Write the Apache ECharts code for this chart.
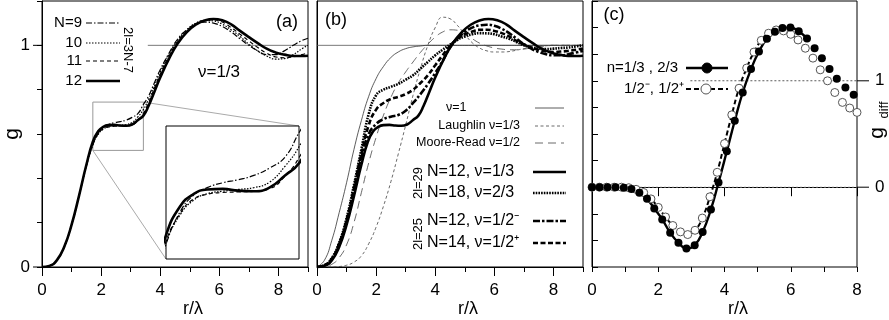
<!DOCTYPE html>
<html>
<head>
<meta charset="utf-8">
<script src="https://cdn.jsdelivr.net/npm/echarts@6/dist/echarts.min.js"></script>
<style>
  html, body { margin: 0; padding: 0; background: #fff; }
  #chart { width: 889px; height: 320px; }
</style>
</head>
<body>
<div id="chart"></div>
<script>
// ---- panel (a): g(r) for nu=1/3, 2l=3N-7 ----
const rA = [0, 0.25, 0.5, 0.75, 1.0, 1.25, 1.5, 1.72, 1.9, 2.07, 2.25, 2.45, 2.65, 2.85, 3.05, 3.25, 3.43,
  3.6, 3.8, 4.0, 4.3, 4.6, 4.9, 5.2, 5.5, 5.8, 6.1, 6.4, 6.7, 7.0, 7.3, 7.6, 7.9, 8.2, 8.5, 8.8, 9.0];
const gN9 = [0, 0.005, 0.03, 0.09, 0.19, 0.32, 0.455, 0.55, 0.603, 0.630, 0.643, 0.651, 0.656, 0.663, 0.675, 0.693, 0.733,
  0.77, 0.83, 0.89, 0.965, 1.03, 1.07, 1.095, 1.105, 1.10, 1.085, 1.06, 1.03, 1.0, 0.975, 0.958, 0.958, 0.975, 1.0, 1.022, 1.032];
const gN10 = [0, 0.005, 0.03, 0.09, 0.19, 0.32, 0.455, 0.552, 0.598, 0.622, 0.633, 0.637, 0.640, 0.643, 0.652, 0.678, 0.71,
  0.755, 0.815, 0.88, 0.96, 1.025, 1.07, 1.10, 1.112, 1.11, 1.095, 1.07, 1.04, 1.005, 0.975, 0.952, 0.938, 0.94, 0.958, 0.985, 1.0];
const gN11 = [0, 0.005, 0.03, 0.09, 0.19, 0.32, 0.457, 0.555, 0.600, 0.624, 0.632, 0.635, 0.636, 0.637, 0.641, 0.662, 0.692,
  0.74, 0.805, 0.87, 0.952, 1.02, 1.065, 1.098, 1.113, 1.115, 1.105, 1.08, 1.05, 1.02, 0.99, 0.965, 0.948, 0.944, 0.948, 0.958, 0.966];
const gN12 = [0, 0.005, 0.03, 0.09, 0.19, 0.32, 0.46, 0.565, 0.612, 0.632, 0.640, 0.641, 0.638, 0.637, 0.643, 0.663, 0.683,
  0.725, 0.79, 0.855, 0.94, 1.01, 1.06, 1.093, 1.112, 1.119, 1.113, 1.095, 1.065, 1.037, 1.01, 0.985, 0.968, 0.958, 0.952, 0.952, 0.953];
const unityA = [3.58, 9];
// zoomed window shown in the inset
const insetX = [1.72, 3.43];
const insetY = [0.526, 0.744];

// ---- panel (b) ----
const rB = [0, 0.25, 0.5, 0.75, 1.0, 1.25, 1.5, 1.75, 2.0, 2.25, 2.5, 2.75, 3.0, 3.25, 3.5, 3.75, 4.0, 4.25, 4.5,
  4.75, 5.0, 5.25, 5.5, 5.75, 6.0, 6.25, 6.5, 6.75, 7.0, 7.25, 7.5, 7.75, 8.0, 8.25, 8.5, 8.75, 9.0];
const gNu1 = [0, 0.03, 0.12, 0.245, 0.38, 0.53, 0.66, 0.77, 0.85, 0.905, 0.945, 0.97, 0.985, 0.993, 0.997, 1, 1, 1, 1,
  1, 1, 1, 1, 1, 1, 1, 1, 1, 1, 1, 1, 1, 1, 1, 1, 1, 1];
const gLaughlin = [0, 0, 0, 0.002, 0.008, 0.022, 0.05, 0.105, 0.18, 0.275, 0.385, 0.51, 0.64, 0.775, 0.895, 1.0, 1.08, 1.127, 1.12,
  1.09, 1.05, 1.012, 0.988, 0.975, 0.97, 0.97, 0.972, 0.978, 0.985, 0.99, 0.995, 0.998, 1.0, 1.0, 1.0, 1.0, 1.0];
const gMooreRead = [0, 0.002, 0.012, 0.042, 0.1, 0.2, 0.335, 0.47, 0.585, 0.685, 0.765, 0.83, 0.88, 0.925, 0.968, 1.005, 1.037, 1.06, 1.07,
  1.068, 1.05, 1.03, 1.01, 0.997, 0.988, 0.983, 0.98, 0.98, 0.983, 0.988, 0.992, 0.996, 1.0, 1.0, 1.0, 1.0, 1.0];
const gNu23 = [0, 0.008, 0.04, 0.11, 0.22, 0.37, 0.53, 0.69, 0.775, 0.80, 0.813, 0.826, 0.845, 0.865, 0.895, 0.925, 0.955, 0.98, 1.003,
  1.025, 1.04, 1.05, 1.055, 1.054, 1.05, 1.04, 1.03, 1.015, 1.0, 0.99, 0.985, 0.983, 0.985, 0.988, 0.99, 0.995, 1.0];
const gNu12m = [0, 0.007, 0.035, 0.10, 0.205, 0.345, 0.49, 0.6, 0.645, 0.667, 0.678, 0.686, 0.705, 0.74, 0.78, 0.825, 0.875, 0.93, 0.99,
  1.03, 1.06, 1.08, 1.09, 1.093, 1.088, 1.075, 1.055, 1.03, 1.005, 0.985, 0.97, 0.96, 0.955, 0.955, 0.96, 0.967, 0.975];
const gNu12p = [0, 0.007, 0.037, 0.105, 0.21, 0.355, 0.51, 0.64, 0.71, 0.74, 0.758, 0.768, 0.78, 0.8, 0.83, 0.865, 0.91, 0.955, 0.997,
  1.03, 1.05, 1.062, 1.07, 1.07, 1.065, 1.055, 1.04, 1.02, 1.005, 0.99, 0.98, 0.972, 0.97, 0.972, 0.975, 0.98, 0.985];
const unityB = [0, 9];

// ---- panel (c): g_diff ----
const rFill = [0, 0.23, 0.47, 0.71, 0.96, 1.19, 1.43, 1.66, 1.88, 2.12, 2.36, 2.61, 2.85, 3.10, 3.34, 3.59, 3.82,
  4.07, 4.31, 4.55, 4.80, 5.04, 5.28, 5.52, 5.75, 5.99, 6.24, 6.49, 6.72, 6.94, 7.17, 7.39, 7.65, 7.90];
const gFill = [0, 0, 0, 0, -0.006, -0.016, -0.053, -0.109, -0.2, -0.303, -0.428, -0.522, -0.575, -0.545, -0.42, -0.209, 0.045,
  0.338, 0.625, 0.89, 1.11, 1.275, 1.395, 1.46, 1.497, 1.50, 1.466, 1.397, 1.306, 1.213, 1.112, 1.019, 0.937, 0.869];
const rOpen = [0, 0.22, 0.44, 0.67, 0.89, 1.11, 1.33, 1.56, 1.78, 2.0, 2.22, 2.44, 2.67, 2.89, 3.11, 3.33, 3.56, 3.78,
  4.0, 4.22, 4.44, 4.67, 4.89, 5.11, 5.33, 5.56, 5.78, 6.0, 6.22, 6.44, 6.67, 6.89, 7.11, 7.33, 7.56, 7.78, 8.0];
const gOpen = [0, 0, 0, 0, 0, -0.005, -0.02, -0.05, -0.11, -0.19, -0.28, -0.36, -0.42, -0.445, -0.405, -0.29, -0.09, 0.14,
  0.41, 0.68, 0.93, 1.12, 1.27, 1.38, 1.447, 1.478, 1.469, 1.437, 1.384, 1.306, 1.213, 1.103, 1.0, 0.89, 0.797, 0.744, 0.703];
const lineEndC = 6.5; // the connecting lines stop here, only symbols beyond
const zeroC = [0, 8];
const unityC = [2.97, 8];

const FONT = "'Liberation Sans Narrow', 'Arial Narrow', 'Liberation Sans', Arial, sans-serif";
const pair = (xs, ys) => xs.map((x, i) => [x, ys[i]]);

// line styles
const S = {
  n9: { width: 1.2, type: [6, 2, 1.5, 2] },
  n10: { width: 1.2, type: [1.5, 1.5] },
  n11: { width: 1.2, type: [4, 3] },
  n12: { width: 2.6, type: 'solid' },
  nu1: { width: 0.8, type: 'solid', color: '#333' },
  laugh: { width: 0.8, type: [3, 2.5], color: '#444' },
  mr: { width: 0.8, type: [8, 5], color: '#444' },
  nu23: { width: 2.6, type: [1.6, 1.1] },
  nu12m: { width: 2.6, type: [7, 2, 2.5, 2] },
  nu12p: { width: 2.6, type: [5, 2.5] },
  fill: { width: 2.4, type: 'solid' },
  open: { width: 2, type: [5, 3] }
};

function curve(xs, ys, xi, yi, st) {
  return {
    type: 'line', xAxisIndex: xi, yAxisIndex: yi, data: pair(xs, ys),
    symbol: 'none', smooth: 0.5, silent: true,
    lineStyle: Object.assign({ color: '#000' }, st), z: 3
  };
}
function hline(xs, y, xi, yi, st) {
  return {
    type: 'line', xAxisIndex: xi, yAxisIndex: yi, data: xs.map(x => [x, y]),
    symbol: 'none', silent: true, lineStyle: st, z: 1
  };
}

function xMajor(grid, max) {
  return {
    type: 'value', gridIndex: grid, position: 'bottom', min: 0, max: max, interval: 2,
    axisLine: { show: true, lineStyle: { color: '#000', width: 1 } },
    axisTick: { show: true, length: 9, lineStyle: { color: '#000' } },
    axisLabel: { fontSize: 17, color: '#000', fontFamily: FONT, margin: 15, showMaxLabel: max % 2 === 0 },
    splitLine: { show: false }
  };
}
function xMinor(grid, max) {
  return {
    type: 'value', gridIndex: grid, position: 'bottom', min: 0, max: max, interval: 1,
    axisLine: { show: false }, axisTick: { show: true, length: 5, lineStyle: { color: '#000' } },
    axisLabel: { show: false }, splitLine: { show: false }
  };
}
const only01 = v => (Math.abs(v) < 1e-6 ? '0' : Math.abs(v - 1) < 1e-6 ? '1' : '');

const gridBox = { show: true, borderColor: '#000', borderWidth: 1, backgroundColor: '#fff' };

const option = {
  animation: false,
  backgroundColor: '#fff',
  grid: [
    Object.assign({ left: 42, top: 1, width: 266, height: 266 }, gridBox),
    Object.assign({ left: 317, top: 1, width: 266, height: 266 }, gridBox),
    Object.assign({ left: 592, top: 1, width: 265, height: 266 }, gridBox),
    Object.assign({ left: 166, top: 126, width: 133, height: 133, z: 5 }, gridBox)
  ],
  xAxis: [
    xMajor(0, 9), xMinor(0, 9),
    xMajor(1, 9), xMinor(1, 9),
    xMajor(2, 8), xMinor(2, 8),
    { type: 'value', gridIndex: 3, min: insetX[0], max: insetX[1], axisLine: { show: false },
      axisTick: { show: false }, axisLabel: { show: false }, splitLine: { show: false } }
  ],
  yAxis: [
    { type: 'value', gridIndex: 0, min: 0, max: 1.2, interval: 0.2,
      axisLine: { show: true, lineStyle: { color: '#000' } },
      axisTick: { length: 5, lineStyle: { color: '#000' } },
      axisLabel: { formatter: only01, fontSize: 17, color: '#000', fontFamily: FONT, margin: 12 },
      splitLine: { show: false } },
    { type: 'value', gridIndex: 1, min: 0, max: 1.2,
      axisLine: { show: true, lineStyle: { color: '#000' } },
      axisTick: { show: false }, axisLabel: { show: false }, splitLine: { show: false } },
    { type: 'value', gridIndex: 2, position: 'right', min: -0.75, max: 1.75, interval: 0.25,
      axisLine: { show: true, lineStyle: { color: '#000' } },
      axisTick: { length: 6, lineStyle: { color: '#000' } },
      axisLabel: { formatter: only01, fontSize: 17, color: '#000', fontFamily: FONT, margin: 18 },
      splitLine: { show: false } },
    { type: 'value', gridIndex: 3, min: insetY[0], max: insetY[1], axisLine: { show: false },
      axisTick: { show: false }, axisLabel: { show: false }, splitLine: { show: false } }
  ],
  series: [
    // (a)
    hline(unityA, 1, 0, 0, { color: '#555', width: 0.8 }),
    curve(rA, gN9, 0, 0, S.n9), curve(rA, gN10, 0, 0, S.n10), curve(rA, gN11, 0, 0, S.n11), curve(rA, gN12, 0, 0, S.n12),
    // inset
    Object.assign(curve(rA, gN9, 6, 3, S.n9), { z: 6 }), Object.assign(curve(rA, gN10, 6, 3, S.n10), { z: 6 }),
    Object.assign(curve(rA, gN11, 6, 3, S.n11), { z: 6 }), Object.assign(curve(rA, gN12, 6, 3, S.n12), { z: 6 }),
    // (b)
    hline(unityB, 1, 2, 1, { color: '#555', width: 0.8 }),
    curve(rB, gNu1, 2, 1, S.nu1), curve(rB, gLaughlin, 2, 1, S.laugh), curve(rB, gMooreRead, 2, 1, S.mr),
    curve(rA, gN12, 2, 1, S.n12), curve(rB, gNu23, 2, 1, S.nu23), curve(rB, gNu12m, 2, 1, S.nu12m), curve(rB, gNu12p, 2, 1, S.nu12p),
    // (c)
    hline(zeroC, 0, 4, 2, { color: '#777', width: 0.8, type: [2, 2] }),
    hline(unityC, 1, 4, 2, { color: '#333', width: 0.8, type: [2, 2] }),
    curve(rOpen.filter(r => r <= lineEndC), gOpen, 4, 2, S.open),
    curve(rFill.filter(r => r <= lineEndC), gFill, 4, 2, S.fill),
    { type: 'scatter', xAxisIndex: 4, yAxisIndex: 2, data: pair(rOpen, gOpen), symbol: 'circle', symbolSize: 8,
      itemStyle: { color: '#fff', borderColor: '#555', borderWidth: 1, opacity: 1 }, silent: true, z: 4 },
    { type: 'scatter', xAxisIndex: 4, yAxisIndex: 2, data: pair(rFill, gFill), symbol: 'circle', symbolSize: 8,
      itemStyle: { color: '#000', opacity: 1 }, silent: true, z: 5 }
  ]
};

const chart = echarts.init(document.getElementById('chart'), null, { renderer: 'canvas' });
chart.setOption(option);

// ---- annotations ----
function txt(x, y, text, size, align, rot) {
  return { type: 'text', x: x, y: y, rotation: rot || 0, z: 100,
    style: { text: text, fill: '#000', font: size + 'px ' + FONT, align: align || 'center', verticalAlign: 'middle',
      textAlign: align || 'center', textVerticalAlign: 'middle' } };
}
function seg(x1, y1, x2, y2, st) {
  return { type: 'line', z: 100, shape: { x1: x1, y1: y1, x2: x2, y2: y2 },
    style: { stroke: st.color || '#000', lineWidth: st.width, lineDash: Array.isArray(st.type) ? st.type : null } };
}
function dot(cx, cy, filled) {
  return { type: 'circle', z: 101, shape: { cx: cx, cy: cy, r: 5 },
    style: { fill: filled ? '#000' : '#fff', stroke: filled ? '#000' : '#555', lineWidth: 1 } };
}

const A = { xAxisIndex: 0, yAxisIndex: 0 };
const I = { xAxisIndex: 6, yAxisIndex: 3 };
const C = { xAxisIndex: 4, yAxisIndex: 2 };
const lo = chart.convertToPixel(A, [insetX[0], insetY[0]]);
const hi = chart.convertToPixel(A, [insetX[1], insetY[1]]);
const ilo = chart.convertToPixel(I, [insetX[0], insetY[0]]);
const ihi = chart.convertToPixel(I, [insetX[1], insetY[1]]);

const g = [];
// zoom box and connectors
g.push({ type: 'rect', z: 1, shape: { x: lo[0], y: hi[1], width: hi[0] - lo[0], height: lo[1] - hi[1] },
  style: { fill: null, stroke: '#999', lineWidth: 1 } });
g.push(seg(lo[0], lo[1], ilo[0], ilo[1], { color: '#aaa', width: 1 }));
g.push(seg(hi[0], hi[1], ihi[0], ihi[1], { color: '#aaa', width: 1 }));
g[1].z = 1; g[2].z = 1;

// longer ticks at labelled values
[0, 1].forEach(v => {
  const p = chart.convertToPixel(A, [0, v]);
  g.push(seg(p[0] - 9, p[1], p[0], p[1], { width: 1 }));
  const q = chart.convertToPixel(C, [8, v]);
  g.push(seg(q[0], q[1], q[0] + 12, q[1], { width: 1 }));
});

// axis titles
g.push(txt(12, 134, 'g', 21, 'center', Math.PI / 2));
g.push(txt(193, 309, 'r/λ', 18));
g.push(txt(468, 309, 'r/λ', 18));
g.push(txt(738, 309, 'r/λ', 18));
g.push(txt(877, 133, 'g', 21, 'center', Math.PI / 2));
g.push(txt(884, 110, 'diff', 13, 'center', Math.PI / 2));

// panel (a)
g.push(txt(287, 22, '(a)', 18));
g.push(txt(219, 72, 'ν=1/3', 17));
[['N=9', 23, S.n9], ['10', 43, S.n10], ['11', 61, S.n11], ['12', 81, S.n12]].forEach(([t, y, st]) => {
  g.push(txt(82, y, t, 15, 'right'));
  g.push(seg(86, y, 120, y, st));
});
g.push(txt(128, 50, '2l=3N-7', 13, 'center', -Math.PI / 2));

// panel (b)
g.push(txt(336, 20, '(b)', 18));
g.push(txt(446, 108, 'ν=1', 12.5, 'left'));
g.push(seg(535, 108, 564, 108, S.nu1));
g.push(txt(520, 126, 'Laughlin ν=1/3', 12.5, 'right'));
g.push(seg(535, 126, 564, 126, S.laugh));
g.push(txt(520, 143, 'Moore-Read ν=1/2', 12.5, 'right'));
g.push(seg(535, 143, 564, 143, S.mr));
[['N=12, ν=1/3', 172, S.n12], ['N=18, ν=2/3', 193, S.nu23], ['N=12, ν=1/2⁻', 221, S.nu12m], ['N=14, ν=1/2⁺', 243, S.nu12p]]
  .forEach(([t, y, st]) => {
    g.push(txt(427, y, t, 16, 'left'));
    g.push(seg(533, y, 566, y, st));
  });
g.push(txt(418, 183, '2l=29', 13, 'center', Math.PI / 2));
g.push(txt(418, 234, '2l=25', 13, 'center', Math.PI / 2));

// panel (c)
g.push(txt(614, 15, '(c)', 18));
g.push(txt(678, 68, 'n=1/3 , 2/3', 15, 'right'));
g.push(seg(686, 68, 728, 68, S.fill));
g.push(dot(707, 68, true));
g.push(txt(684, 89, '1/2⁻, 1/2⁺', 15, 'right'));
g.push(seg(686, 89, 728, 89, S.open));
g.push(dot(706, 89, false));

chart.setOption({ graphic: g });
</script>
</body>
</html>
